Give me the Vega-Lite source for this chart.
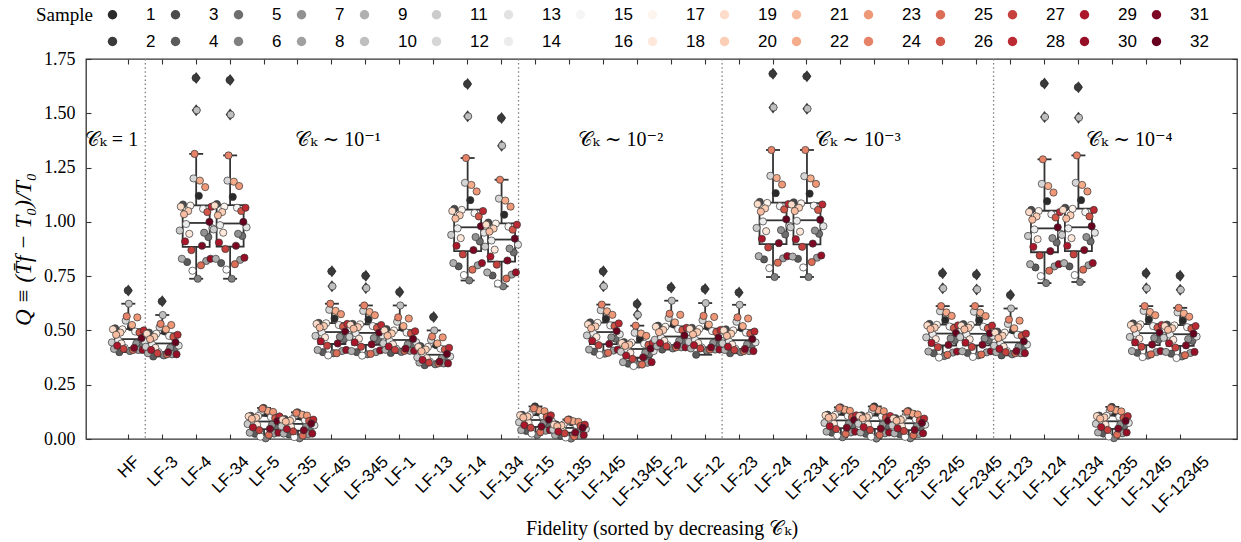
{
"$schema":"https://vega.github.io/schema/vega-lite/v6.json",
"width":1151,"height":380,
"autosize":{"type":"none"},
"padding":{"left":86,"top":59,"right":4,"bottom":103},
"background":"white",
"config":{
 "font":"Liberation Serif, DejaVu Serif, serif",
 "view":{"stroke":"#333333","strokeWidth":1.3},
 "axis":{"grid":false,"domain":false,"tickColor":"#333333","tickWidth":1.1,"labelColor":"#000000","titleColor":"#000000","titleFontWeight":"normal"}
},
"datasets":{"pts":[
{"f":"HF","s":1,"q":0.515},{"f":"HF","s":2,"q":0.684},{"f":"HF","s":3,"q":0.51},{"f":"HF","s":4,"q":0.4},{"f":"HF","s":5,"q":0.43},{"f":"HF","s":6,"q":0.405},{"f":"HF","s":7,"q":0.44},{"f":"HF","s":8,"q":0.41},{"f":"HF","s":9,"q":0.415},{"f":"HF","s":10,"q":0.623},{"f":"HF","s":11,"q":0.445},{"f":"HF","s":12,"q":0.545},{"f":"HF","s":13,"q":0.45},{"f":"HF","s":14,"q":0.455},{"f":"HF","s":15,"q":0.495},{"f":"HF","s":16,"q":0.42},{"f":"HF","s":17,"q":0.505},{"f":"HF","s":18,"q":0.44},{"f":"HF","s":19,"q":0.505},{"f":"HF","s":20,"q":0.49},{"f":"HF","s":21,"q":0.48},{"f":"HF","s":22,"q":0.525},{"f":"HF","s":23,"q":0.56},{"f":"HF","s":24,"q":0.565},{"f":"HF","s":25,"q":0.41},{"f":"HF","s":26,"q":0.49},{"f":"HF","s":27,"q":0.415},{"f":"HF","s":28,"q":0.5},{"f":"HF","s":29,"q":0.43},{"f":"HF","s":30,"q":0.41},{"f":"HF","s":31,"q":0.42},{"f":"HF","s":32,"q":0.465},
{"f":"LF-3","s":1,"q":0.495},{"f":"LF-3","s":2,"q":0.634},{"f":"LF-3","s":3,"q":0.49},{"f":"LF-3","s":4,"q":0.38},{"f":"LF-3","s":5,"q":0.41},{"f":"LF-3","s":6,"q":0.385},{"f":"LF-3","s":7,"q":0.42},{"f":"LF-3","s":8,"q":0.39},{"f":"LF-3","s":9,"q":0.395},{"f":"LF-3","s":10,"q":0.571},{"f":"LF-3","s":11,"q":0.425},{"f":"LF-3","s":12,"q":0.515},{"f":"LF-3","s":13,"q":0.43},{"f":"LF-3","s":14,"q":0.435},{"f":"LF-3","s":15,"q":0.475},{"f":"LF-3","s":16,"q":0.4},{"f":"LF-3","s":17,"q":0.485},{"f":"LF-3","s":18,"q":0.42},{"f":"LF-3","s":19,"q":0.485},{"f":"LF-3","s":20,"q":0.47},{"f":"LF-3","s":21,"q":0.46},{"f":"LF-3","s":22,"q":0.505},{"f":"LF-3","s":23,"q":0.525},{"f":"LF-3","s":24,"q":0.53},{"f":"LF-3","s":25,"q":0.39},{"f":"LF-3","s":26,"q":0.47},{"f":"LF-3","s":27,"q":0.395},{"f":"LF-3","s":28,"q":0.48},{"f":"LF-3","s":29,"q":0.41},{"f":"LF-3","s":30,"q":0.39},{"f":"LF-3","s":31,"q":0.4},{"f":"LF-3","s":32,"q":0.445},
{"f":"LF-4","s":1,"q":1.12},{"f":"LF-4","s":2,"q":1.663},{"f":"LF-4","s":3,"q":1.08},{"f":"LF-4","s":4,"q":0.815},{"f":"LF-4","s":5,"q":0.93},{"f":"LF-4","s":6,"q":0.738},{"f":"LF-4","s":7,"q":0.95},{"f":"LF-4","s":8,"q":0.82},{"f":"LF-4","s":9,"q":0.83},{"f":"LF-4","s":10,"q":1.514},{"f":"LF-4","s":11,"q":0.96},{"f":"LF-4","s":12,"q":1.2},{"f":"LF-4","s":13,"q":0.97},{"f":"LF-4","s":14,"q":0.99},{"f":"LF-4","s":15,"q":1.06},{"f":"LF-4","s":16,"q":0.775},{"f":"LF-4","s":17,"q":1.075},{"f":"LF-4","s":18,"q":0.945},{"f":"LF-4","s":19,"q":1.07},{"f":"LF-4","s":20,"q":1.05},{"f":"LF-4","s":21,"q":1.035},{"f":"LF-4","s":22,"q":1.19},{"f":"LF-4","s":23,"q":1.16},{"f":"LF-4","s":24,"q":1.313},{"f":"LF-4","s":25,"q":0.8},{"f":"LF-4","s":26,"q":1.045},{"f":"LF-4","s":27,"q":0.87},{"f":"LF-4","s":28,"q":1.07},{"f":"LF-4","s":29,"q":0.91},{"f":"LF-4","s":30,"q":0.83},{"f":"LF-4","s":31,"q":0.89},{"f":"LF-4","s":32,"q":1.0},
{"f":"LF-34","s":1,"q":1.115},{"f":"LF-34","s":2,"q":1.653},{"f":"LF-34","s":3,"q":1.082},{"f":"LF-34","s":4,"q":0.81},{"f":"LF-34","s":5,"q":0.935},{"f":"LF-34","s":6,"q":0.738},{"f":"LF-34","s":7,"q":0.945},{"f":"LF-34","s":8,"q":0.825},{"f":"LF-34","s":9,"q":0.83},{"f":"LF-34","s":10,"q":1.494},{"f":"LF-34","s":11,"q":0.965},{"f":"LF-34","s":12,"q":1.19},{"f":"LF-34","s":13,"q":0.975},{"f":"LF-34","s":14,"q":0.985},{"f":"LF-34","s":15,"q":1.065},{"f":"LF-34","s":16,"q":0.78},{"f":"LF-34","s":17,"q":1.07},{"f":"LF-34","s":18,"q":0.95},{"f":"LF-34","s":19,"q":1.075},{"f":"LF-34","s":20,"q":1.045},{"f":"LF-34","s":21,"q":1.03},{"f":"LF-34","s":22,"q":1.185},{"f":"LF-34","s":23,"q":1.165},{"f":"LF-34","s":24,"q":1.306},{"f":"LF-34","s":25,"q":0.805},{"f":"LF-34","s":26,"q":1.05},{"f":"LF-34","s":27,"q":0.875},{"f":"LF-34","s":28,"q":1.065},{"f":"LF-34","s":29,"q":0.905},{"f":"LF-34","s":30,"q":0.835},{"f":"LF-34","s":31,"q":0.89},{"f":"LF-34","s":32,"q":1.0},
{"f":"LF-5","s":1,"q":0.12},{"f":"LF-5","s":2,"q":0.143},{"f":"LF-5","s":3,"q":0.107},{"f":"LF-5","s":4,"q":0.024},{"f":"LF-5","s":5,"q":0.06},{"f":"LF-5","s":6,"q":0.003},{"f":"LF-5","s":7,"q":0.066},{"f":"LF-5","s":8,"q":0.025},{"f":"LF-5","s":9,"q":0.029},{"f":"LF-5","s":10,"q":0.135},{"f":"LF-5","s":11,"q":0.069},{"f":"LF-5","s":12,"q":0.128},{"f":"LF-5","s":13,"q":0.073},{"f":"LF-5","s":14,"q":0.079},{"f":"LF-5","s":15,"q":0.101},{"f":"LF-5","s":16,"q":0.011},{"f":"LF-5","s":17,"q":0.106},{"f":"LF-5","s":18,"q":0.065},{"f":"LF-5","s":19,"q":0.104},{"f":"LF-5","s":20,"q":0.098},{"f":"LF-5","s":21,"q":0.093},{"f":"LF-5","s":22,"q":0.13},{"f":"LF-5","s":23,"q":0.125},{"f":"LF-5","s":24,"q":0.14},{"f":"LF-5","s":25,"q":0.019},{"f":"LF-5","s":26,"q":0.096},{"f":"LF-5","s":27,"q":0.041},{"f":"LF-5","s":28,"q":0.104},{"f":"LF-5","s":29,"q":0.054},{"f":"LF-5","s":30,"q":0.029},{"f":"LF-5","s":31,"q":0.047},{"f":"LF-5","s":32,"q":0.082},
{"f":"LF-35","s":1,"q":0.103},{"f":"LF-35","s":2,"q":0.123},{"f":"LF-35","s":3,"q":0.092},{"f":"LF-35","s":4,"q":0.021},{"f":"LF-35","s":5,"q":0.052},{"f":"LF-35","s":6,"q":0.003},{"f":"LF-35","s":7,"q":0.057},{"f":"LF-35","s":8,"q":0.022},{"f":"LF-35","s":9,"q":0.025},{"f":"LF-35","s":10,"q":0.116},{"f":"LF-35","s":11,"q":0.059},{"f":"LF-35","s":12,"q":0.11},{"f":"LF-35","s":13,"q":0.063},{"f":"LF-35","s":14,"q":0.068},{"f":"LF-35","s":15,"q":0.087},{"f":"LF-35","s":16,"q":0.009},{"f":"LF-35","s":17,"q":0.091},{"f":"LF-35","s":18,"q":0.056},{"f":"LF-35","s":19,"q":0.089},{"f":"LF-35","s":20,"q":0.084},{"f":"LF-35","s":21,"q":0.08},{"f":"LF-35","s":22,"q":0.112},{"f":"LF-35","s":23,"q":0.108},{"f":"LF-35","s":24,"q":0.12},{"f":"LF-35","s":25,"q":0.016},{"f":"LF-35","s":26,"q":0.083},{"f":"LF-35","s":27,"q":0.035},{"f":"LF-35","s":28,"q":0.089},{"f":"LF-35","s":29,"q":0.046},{"f":"LF-35","s":30,"q":0.025},{"f":"LF-35","s":31,"q":0.04},{"f":"LF-35","s":32,"q":0.071},
{"f":"LF-45","s":1,"q":0.555},{"f":"LF-45","s":2,"q":0.772},{"f":"LF-45","s":3,"q":0.535},{"f":"LF-45","s":4,"q":0.4},{"f":"LF-45","s":5,"q":0.46},{"f":"LF-45","s":6,"q":0.395},{"f":"LF-45","s":7,"q":0.47},{"f":"LF-45","s":8,"q":0.405},{"f":"LF-45","s":9,"q":0.41},{"f":"LF-45","s":10,"q":0.703},{"f":"LF-45","s":11,"q":0.475},{"f":"LF-45","s":12,"q":0.595},{"f":"LF-45","s":13,"q":0.48},{"f":"LF-45","s":14,"q":0.49},{"f":"LF-45","s":15,"q":0.525},{"f":"LF-45","s":16,"q":0.385},{"f":"LF-45","s":17,"q":0.533},{"f":"LF-45","s":18,"q":0.468},{"f":"LF-45","s":19,"q":0.53},{"f":"LF-45","s":20,"q":0.52},{"f":"LF-45","s":21,"q":0.513},{"f":"LF-45","s":22,"q":0.59},{"f":"LF-45","s":23,"q":0.575},{"f":"LF-45","s":24,"q":0.623},{"f":"LF-45","s":25,"q":0.395},{"f":"LF-45","s":26,"q":0.518},{"f":"LF-45","s":27,"q":0.43},{"f":"LF-45","s":28,"q":0.53},{"f":"LF-45","s":29,"q":0.45},{"f":"LF-45","s":30,"q":0.41},{"f":"LF-45","s":31,"q":0.44},{"f":"LF-45","s":32,"q":0.495},
{"f":"LF-345","s":1,"q":0.55},{"f":"LF-345","s":2,"q":0.752},{"f":"LF-345","s":3,"q":0.53},{"f":"LF-345","s":4,"q":0.4},{"f":"LF-345","s":5,"q":0.455},{"f":"LF-345","s":6,"q":0.39},{"f":"LF-345","s":7,"q":0.465},{"f":"LF-345","s":8,"q":0.4},{"f":"LF-345","s":9,"q":0.405},{"f":"LF-345","s":10,"q":0.695},{"f":"LF-345","s":11,"q":0.47},{"f":"LF-345","s":12,"q":0.59},{"f":"LF-345","s":13,"q":0.478},{"f":"LF-345","s":14,"q":0.487},{"f":"LF-345","s":15,"q":0.52},{"f":"LF-345","s":16,"q":0.384},{"f":"LF-345","s":17,"q":0.528},{"f":"LF-345","s":18,"q":0.462},{"f":"LF-345","s":19,"q":0.526},{"f":"LF-345","s":20,"q":0.515},{"f":"LF-345","s":21,"q":0.508},{"f":"LF-345","s":22,"q":0.585},{"f":"LF-345","s":23,"q":0.57},{"f":"LF-345","s":24,"q":0.615},{"f":"LF-345","s":25,"q":0.392},{"f":"LF-345","s":26,"q":0.512},{"f":"LF-345","s":27,"q":0.425},{"f":"LF-345","s":28,"q":0.525},{"f":"LF-345","s":29,"q":0.445},{"f":"LF-345","s":30,"q":0.408},{"f":"LF-345","s":31,"q":0.436},{"f":"LF-345","s":32,"q":0.49},
{"f":"LF-1","s":1,"q":0.512},{"f":"LF-1","s":2,"q":0.677},{"f":"LF-1","s":3,"q":0.506},{"f":"LF-1","s":4,"q":0.396},{"f":"LF-1","s":5,"q":0.426},{"f":"LF-1","s":6,"q":0.401},{"f":"LF-1","s":7,"q":0.436},{"f":"LF-1","s":8,"q":0.406},{"f":"LF-1","s":9,"q":0.411},{"f":"LF-1","s":10,"q":0.615},{"f":"LF-1","s":11,"q":0.441},{"f":"LF-1","s":12,"q":0.54},{"f":"LF-1","s":13,"q":0.446},{"f":"LF-1","s":14,"q":0.451},{"f":"LF-1","s":15,"q":0.49},{"f":"LF-1","s":16,"q":0.416},{"f":"LF-1","s":17,"q":0.5},{"f":"LF-1","s":18,"q":0.436},{"f":"LF-1","s":19,"q":0.5},{"f":"LF-1","s":20,"q":0.486},{"f":"LF-1","s":21,"q":0.476},{"f":"LF-1","s":22,"q":0.52},{"f":"LF-1","s":23,"q":0.555},{"f":"LF-1","s":24,"q":0.56},{"f":"LF-1","s":25,"q":0.406},{"f":"LF-1","s":26,"q":0.486},{"f":"LF-1","s":27,"q":0.411},{"f":"LF-1","s":28,"q":0.496},{"f":"LF-1","s":29,"q":0.426},{"f":"LF-1","s":30,"q":0.406},{"f":"LF-1","s":31,"q":0.416},{"f":"LF-1","s":32,"q":0.461},
{"f":"LF-13","s":1,"q":0.432},{"f":"LF-13","s":2,"q":0.562},{"f":"LF-13","s":3,"q":0.428},{"f":"LF-13","s":4,"q":0.34},{"f":"LF-13","s":5,"q":0.364},{"f":"LF-13","s":6,"q":0.344},{"f":"LF-13","s":7,"q":0.372},{"f":"LF-13","s":8,"q":0.348},{"f":"LF-13","s":9,"q":0.352},{"f":"LF-13","s":10,"q":0.5},{"f":"LF-13","s":11,"q":0.376},{"f":"LF-13","s":12,"q":0.456},{"f":"LF-13","s":13,"q":0.38},{"f":"LF-13","s":14,"q":0.384},{"f":"LF-13","s":15,"q":0.416},{"f":"LF-13","s":16,"q":0.356},{"f":"LF-13","s":17,"q":0.424},{"f":"LF-13","s":18,"q":0.372},{"f":"LF-13","s":19,"q":0.424},{"f":"LF-13","s":20,"q":0.412},{"f":"LF-13","s":21,"q":0.404},{"f":"LF-13","s":22,"q":0.44},{"f":"LF-13","s":23,"q":0.468},{"f":"LF-13","s":24,"q":0.472},{"f":"LF-13","s":25,"q":0.348},{"f":"LF-13","s":26,"q":0.412},{"f":"LF-13","s":27,"q":0.352},{"f":"LF-13","s":28,"q":0.42},{"f":"LF-13","s":29,"q":0.364},{"f":"LF-13","s":30,"q":0.348},{"f":"LF-13","s":31,"q":0.356},{"f":"LF-13","s":32,"q":0.392},
{"f":"LF-14","s":1,"q":1.1},{"f":"LF-14","s":2,"q":1.635},{"f":"LF-14","s":3,"q":1.06},{"f":"LF-14","s":4,"q":0.795},{"f":"LF-14","s":5,"q":0.91},{"f":"LF-14","s":6,"q":0.73},{"f":"LF-14","s":7,"q":0.93},{"f":"LF-14","s":8,"q":0.8},{"f":"LF-14","s":9,"q":0.81},{"f":"LF-14","s":10,"q":1.486},{"f":"LF-14","s":11,"q":0.94},{"f":"LF-14","s":12,"q":1.18},{"f":"LF-14","s":13,"q":0.95},{"f":"LF-14","s":14,"q":0.97},{"f":"LF-14","s":15,"q":1.04},{"f":"LF-14","s":16,"q":0.755},{"f":"LF-14","s":17,"q":1.055},{"f":"LF-14","s":18,"q":0.925},{"f":"LF-14","s":19,"q":1.05},{"f":"LF-14","s":20,"q":1.03},{"f":"LF-14","s":21,"q":1.015},{"f":"LF-14","s":22,"q":1.17},{"f":"LF-14","s":23,"q":1.14},{"f":"LF-14","s":24,"q":1.294},{"f":"LF-14","s":25,"q":0.78},{"f":"LF-14","s":26,"q":1.025},{"f":"LF-14","s":27,"q":0.85},{"f":"LF-14","s":28,"q":1.05},{"f":"LF-14","s":29,"q":0.89},{"f":"LF-14","s":30,"q":0.81},{"f":"LF-14","s":31,"q":0.87},{"f":"LF-14","s":32,"q":0.98},
{"f":"LF-134","s":1,"q":1.033},{"f":"LF-134","s":2,"q":1.478},{"f":"LF-134","s":3,"q":0.997},{"f":"LF-134","s":4,"q":0.753},{"f":"LF-134","s":5,"q":0.859},{"f":"LF-134","s":6,"q":0.703},{"f":"LF-134","s":7,"q":0.877},{"f":"LF-134","s":8,"q":0.757},{"f":"LF-134","s":9,"q":0.767},{"f":"LF-134","s":10,"q":1.351},{"f":"LF-134","s":11,"q":0.886},{"f":"LF-134","s":12,"q":1.107},{"f":"LF-134","s":13,"q":0.895},{"f":"LF-134","s":14,"q":0.914},{"f":"LF-134","s":15,"q":0.978},{"f":"LF-134","s":16,"q":0.716},{"f":"LF-134","s":17,"q":0.992},{"f":"LF-134","s":18,"q":0.872},{"f":"LF-134","s":19,"q":0.987},{"f":"LF-134","s":20,"q":0.969},{"f":"LF-134","s":21,"q":0.955},{"f":"LF-134","s":22,"q":1.098},{"f":"LF-134","s":23,"q":1.07},{"f":"LF-134","s":24,"q":1.194},{"f":"LF-134","s":25,"q":0.739},{"f":"LF-134","s":26,"q":0.964},{"f":"LF-134","s":27,"q":0.803},{"f":"LF-134","s":28,"q":0.987},{"f":"LF-134","s":29,"q":0.84},{"f":"LF-134","s":30,"q":0.767},{"f":"LF-134","s":31,"q":0.822},{"f":"LF-134","s":32,"q":0.923},
{"f":"LF-15","s":1,"q":0.123},{"f":"LF-15","s":2,"q":0.15},{"f":"LF-15","s":3,"q":0.111},{"f":"LF-15","s":4,"q":0.037},{"f":"LF-15","s":5,"q":0.069},{"f":"LF-15","s":6,"q":0.018},{"f":"LF-15","s":7,"q":0.074},{"f":"LF-15","s":8,"q":0.038},{"f":"LF-15","s":9,"q":0.041},{"f":"LF-15","s":10,"q":0.137},{"f":"LF-15","s":11,"q":0.077},{"f":"LF-15","s":12,"q":0.13},{"f":"LF-15","s":13,"q":0.081},{"f":"LF-15","s":14,"q":0.086},{"f":"LF-15","s":15,"q":0.106},{"f":"LF-15","s":16,"q":0.025},{"f":"LF-15","s":17,"q":0.11},{"f":"LF-15","s":18,"q":0.074},{"f":"LF-15","s":19,"q":0.109},{"f":"LF-15","s":20,"q":0.103},{"f":"LF-15","s":21,"q":0.099},{"f":"LF-15","s":22,"q":0.132},{"f":"LF-15","s":23,"q":0.128},{"f":"LF-15","s":24,"q":0.141},{"f":"LF-15","s":25,"q":0.032},{"f":"LF-15","s":26,"q":0.101},{"f":"LF-15","s":27,"q":0.052},{"f":"LF-15","s":28,"q":0.109},{"f":"LF-15","s":29,"q":0.064},{"f":"LF-15","s":30,"q":0.041},{"f":"LF-15","s":31,"q":0.057},{"f":"LF-15","s":32,"q":0.089},
{"f":"LF-135","s":1,"q":0.076},{"f":"LF-135","s":2,"q":0.09},{"f":"LF-135","s":3,"q":0.067},{"f":"LF-135","s":4,"q":0.015},{"f":"LF-135","s":5,"q":0.038},{"f":"LF-135","s":6,"q":0.002},{"f":"LF-135","s":7,"q":0.042},{"f":"LF-135","s":8,"q":0.016},{"f":"LF-135","s":9,"q":0.018},{"f":"LF-135","s":10,"q":0.085},{"f":"LF-135","s":11,"q":0.043},{"f":"LF-135","s":12,"q":0.081},{"f":"LF-135","s":13,"q":0.046},{"f":"LF-135","s":14,"q":0.05},{"f":"LF-135","s":15,"q":0.064},{"f":"LF-135","s":16,"q":0.007},{"f":"LF-135","s":17,"q":0.067},{"f":"LF-135","s":18,"q":0.041},{"f":"LF-135","s":19,"q":0.066},{"f":"LF-135","s":20,"q":0.062},{"f":"LF-135","s":21,"q":0.059},{"f":"LF-135","s":22,"q":0.082},{"f":"LF-135","s":23,"q":0.079},{"f":"LF-135","s":24,"q":0.088},{"f":"LF-135","s":25,"q":0.012},{"f":"LF-135","s":26,"q":0.06},{"f":"LF-135","s":27,"q":0.026},{"f":"LF-135","s":28,"q":0.066},{"f":"LF-135","s":29,"q":0.034},{"f":"LF-135","s":30,"q":0.018},{"f":"LF-135","s":31,"q":0.03},{"f":"LF-135","s":32,"q":0.052},
{"f":"LF-145","s":1,"q":0.553},{"f":"LF-145","s":2,"q":0.772},{"f":"LF-145","s":3,"q":0.537},{"f":"LF-145","s":4,"q":0.402},{"f":"LF-145","s":5,"q":0.462},{"f":"LF-145","s":6,"q":0.393},{"f":"LF-145","s":7,"q":0.468},{"f":"LF-145","s":8,"q":0.407},{"f":"LF-145","s":9,"q":0.412},{"f":"LF-145","s":10,"q":0.703},{"f":"LF-145","s":11,"q":0.477},{"f":"LF-145","s":12,"q":0.593},{"f":"LF-145","s":13,"q":0.482},{"f":"LF-145","s":14,"q":0.488},{"f":"LF-145","s":15,"q":0.523},{"f":"LF-145","s":16,"q":0.387},{"f":"LF-145","s":17,"q":0.535},{"f":"LF-145","s":18,"q":0.47},{"f":"LF-145","s":19,"q":0.528},{"f":"LF-145","s":20,"q":0.518},{"f":"LF-145","s":21,"q":0.51},{"f":"LF-145","s":22,"q":0.588},{"f":"LF-145","s":23,"q":0.572},{"f":"LF-145","s":24,"q":0.619},{"f":"LF-145","s":25,"q":0.397},{"f":"LF-145","s":26,"q":0.52},{"f":"LF-145","s":27,"q":0.432},{"f":"LF-145","s":28,"q":0.532},{"f":"LF-145","s":29,"q":0.452},{"f":"LF-145","s":30,"q":0.412},{"f":"LF-145","s":31,"q":0.438},{"f":"LF-145","s":32,"q":0.497},
{"f":"LF-1345","s":1,"q":0.46},{"f":"LF-1345","s":2,"q":0.622},{"f":"LF-1345","s":3,"q":0.446},{"f":"LF-1345","s":4,"q":0.347},{"f":"LF-1345","s":5,"q":0.391},{"f":"LF-1345","s":6,"q":0.343},{"f":"LF-1345","s":7,"q":0.398},{"f":"LF-1345","s":8,"q":0.351},{"f":"LF-1345","s":9,"q":0.354},{"f":"LF-1345","s":10,"q":0.572},{"f":"LF-1345","s":11,"q":0.402},{"f":"LF-1345","s":12,"q":0.489},{"f":"LF-1345","s":13,"q":0.405},{"f":"LF-1345","s":14,"q":0.413},{"f":"LF-1345","s":15,"q":0.438},{"f":"LF-1345","s":16,"q":0.336},{"f":"LF-1345","s":17,"q":0.444},{"f":"LF-1345","s":18,"q":0.397},{"f":"LF-1345","s":19,"q":0.442},{"f":"LF-1345","s":20,"q":0.435},{"f":"LF-1345","s":21,"q":0.429},{"f":"LF-1345","s":22,"q":0.486},{"f":"LF-1345","s":23,"q":0.475},{"f":"LF-1345","s":24,"q":0.522},{"f":"LF-1345","s":25,"q":0.343},{"f":"LF-1345","s":26,"q":0.433},{"f":"LF-1345","s":27,"q":0.369},{"f":"LF-1345","s":28,"q":0.442},{"f":"LF-1345","s":29,"q":0.384},{"f":"LF-1345","s":30,"q":0.354},{"f":"LF-1345","s":31,"q":0.376},{"f":"LF-1345","s":32,"q":0.416},
{"f":"LF-2","s":1,"q":0.527},{"f":"LF-2","s":2,"q":0.698},{"f":"LF-2","s":3,"q":0.522},{"f":"LF-2","s":4,"q":0.412},{"f":"LF-2","s":5,"q":0.442},{"f":"LF-2","s":6,"q":0.417},{"f":"LF-2","s":7,"q":0.452},{"f":"LF-2","s":8,"q":0.422},{"f":"LF-2","s":9,"q":0.427},{"f":"LF-2","s":10,"q":0.637},{"f":"LF-2","s":11,"q":0.457},{"f":"LF-2","s":12,"q":0.557},{"f":"LF-2","s":13,"q":0.462},{"f":"LF-2","s":14,"q":0.467},{"f":"LF-2","s":15,"q":0.507},{"f":"LF-2","s":16,"q":0.432},{"f":"LF-2","s":17,"q":0.517},{"f":"LF-2","s":18,"q":0.452},{"f":"LF-2","s":19,"q":0.517},{"f":"LF-2","s":20,"q":0.502},{"f":"LF-2","s":21,"q":0.492},{"f":"LF-2","s":22,"q":0.537},{"f":"LF-2","s":23,"q":0.572},{"f":"LF-2","s":24,"q":0.577},{"f":"LF-2","s":25,"q":0.422},{"f":"LF-2","s":26,"q":0.502},{"f":"LF-2","s":27,"q":0.427},{"f":"LF-2","s":28,"q":0.512},{"f":"LF-2","s":29,"q":0.442},{"f":"LF-2","s":30,"q":0.422},{"f":"LF-2","s":31,"q":0.432},{"f":"LF-2","s":32,"q":0.477},
{"f":"LF-12","s":1,"q":0.517},{"f":"LF-12","s":2,"q":0.691},{"f":"LF-12","s":3,"q":0.512},{"f":"LF-12","s":4,"q":0.388},{"f":"LF-12","s":5,"q":0.432},{"f":"LF-12","s":6,"q":0.407},{"f":"LF-12","s":7,"q":0.442},{"f":"LF-12","s":8,"q":0.412},{"f":"LF-12","s":9,"q":0.417},{"f":"LF-12","s":10,"q":0.626},{"f":"LF-12","s":11,"q":0.447},{"f":"LF-12","s":12,"q":0.547},{"f":"LF-12","s":13,"q":0.452},{"f":"LF-12","s":14,"q":0.457},{"f":"LF-12","s":15,"q":0.497},{"f":"LF-12","s":16,"q":0.422},{"f":"LF-12","s":17,"q":0.507},{"f":"LF-12","s":18,"q":0.442},{"f":"LF-12","s":19,"q":0.507},{"f":"LF-12","s":20,"q":0.492},{"f":"LF-12","s":21,"q":0.482},{"f":"LF-12","s":22,"q":0.527},{"f":"LF-12","s":23,"q":0.562},{"f":"LF-12","s":24,"q":0.567},{"f":"LF-12","s":25,"q":0.412},{"f":"LF-12","s":26,"q":0.492},{"f":"LF-12","s":27,"q":0.417},{"f":"LF-12","s":28,"q":0.502},{"f":"LF-12","s":29,"q":0.432},{"f":"LF-12","s":30,"q":0.412},{"f":"LF-12","s":31,"q":0.422},{"f":"LF-12","s":32,"q":0.467},
{"f":"LF-23","s":1,"q":0.51},{"f":"LF-23","s":2,"q":0.675},{"f":"LF-23","s":3,"q":0.505},{"f":"LF-23","s":4,"q":0.395},{"f":"LF-23","s":5,"q":0.425},{"f":"LF-23","s":6,"q":0.4},{"f":"LF-23","s":7,"q":0.435},{"f":"LF-23","s":8,"q":0.405},{"f":"LF-23","s":9,"q":0.41},{"f":"LF-23","s":10,"q":0.618},{"f":"LF-23","s":11,"q":0.44},{"f":"LF-23","s":12,"q":0.54},{"f":"LF-23","s":13,"q":0.445},{"f":"LF-23","s":14,"q":0.45},{"f":"LF-23","s":15,"q":0.49},{"f":"LF-23","s":16,"q":0.415},{"f":"LF-23","s":17,"q":0.5},{"f":"LF-23","s":18,"q":0.435},{"f":"LF-23","s":19,"q":0.5},{"f":"LF-23","s":20,"q":0.485},{"f":"LF-23","s":21,"q":0.475},{"f":"LF-23","s":22,"q":0.52},{"f":"LF-23","s":23,"q":0.555},{"f":"LF-23","s":24,"q":0.56},{"f":"LF-23","s":25,"q":0.405},{"f":"LF-23","s":26,"q":0.485},{"f":"LF-23","s":27,"q":0.41},{"f":"LF-23","s":28,"q":0.495},{"f":"LF-23","s":29,"q":0.425},{"f":"LF-23","s":30,"q":0.405},{"f":"LF-23","s":31,"q":0.415},{"f":"LF-23","s":32,"q":0.46},
{"f":"LF-24","s":1,"q":1.132},{"f":"LF-24","s":2,"q":1.682},{"f":"LF-24","s":3,"q":1.092},{"f":"LF-24","s":4,"q":0.827},{"f":"LF-24","s":5,"q":0.942},{"f":"LF-24","s":6,"q":0.746},{"f":"LF-24","s":7,"q":0.962},{"f":"LF-24","s":8,"q":0.832},{"f":"LF-24","s":9,"q":0.842},{"f":"LF-24","s":10,"q":1.527},{"f":"LF-24","s":11,"q":0.972},{"f":"LF-24","s":12,"q":1.212},{"f":"LF-24","s":13,"q":0.982},{"f":"LF-24","s":14,"q":1.002},{"f":"LF-24","s":15,"q":1.072},{"f":"LF-24","s":16,"q":0.787},{"f":"LF-24","s":17,"q":1.087},{"f":"LF-24","s":18,"q":0.957},{"f":"LF-24","s":19,"q":1.082},{"f":"LF-24","s":20,"q":1.062},{"f":"LF-24","s":21,"q":1.047},{"f":"LF-24","s":22,"q":1.202},{"f":"LF-24","s":23,"q":1.172},{"f":"LF-24","s":24,"q":1.331},{"f":"LF-24","s":25,"q":0.812},{"f":"LF-24","s":26,"q":1.057},{"f":"LF-24","s":27,"q":0.882},{"f":"LF-24","s":28,"q":1.082},{"f":"LF-24","s":29,"q":0.922},{"f":"LF-24","s":30,"q":0.842},{"f":"LF-24","s":31,"q":0.902},{"f":"LF-24","s":32,"q":1.012},
{"f":"LF-234","s":1,"q":1.13},{"f":"LF-234","s":2,"q":1.67},{"f":"LF-234","s":3,"q":1.09},{"f":"LF-234","s":4,"q":0.83},{"f":"LF-234","s":5,"q":0.945},{"f":"LF-234","s":6,"q":0.746},{"f":"LF-234","s":7,"q":0.96},{"f":"LF-234","s":8,"q":0.835},{"f":"LF-234","s":9,"q":0.84},{"f":"LF-234","s":10,"q":1.521},{"f":"LF-234","s":11,"q":0.975},{"f":"LF-234","s":12,"q":1.21},{"f":"LF-234","s":13,"q":0.98},{"f":"LF-234","s":14,"q":1.005},{"f":"LF-234","s":15,"q":1.075},{"f":"LF-234","s":16,"q":0.79},{"f":"LF-234","s":17,"q":1.085},{"f":"LF-234","s":18,"q":0.955},{"f":"LF-234","s":19,"q":1.08},{"f":"LF-234","s":20,"q":1.065},{"f":"LF-234","s":21,"q":1.05},{"f":"LF-234","s":22,"q":1.2},{"f":"LF-234","s":23,"q":1.175},{"f":"LF-234","s":24,"q":1.331},{"f":"LF-234","s":25,"q":0.815},{"f":"LF-234","s":26,"q":1.055},{"f":"LF-234","s":27,"q":0.885},{"f":"LF-234","s":28,"q":1.08},{"f":"LF-234","s":29,"q":0.92},{"f":"LF-234","s":30,"q":0.845},{"f":"LF-234","s":31,"q":0.9},{"f":"LF-234","s":32,"q":1.01},
{"f":"LF-25","s":1,"q":0.125},{"f":"LF-25","s":2,"q":0.146},{"f":"LF-25","s":3,"q":0.112},{"f":"LF-25","s":4,"q":0.029},{"f":"LF-25","s":5,"q":0.065},{"f":"LF-25","s":6,"q":0.008},{"f":"LF-25","s":7,"q":0.071},{"f":"LF-25","s":8,"q":0.03},{"f":"LF-25","s":9,"q":0.034},{"f":"LF-25","s":10,"q":0.14},{"f":"LF-25","s":11,"q":0.074},{"f":"LF-25","s":12,"q":0.133},{"f":"LF-25","s":13,"q":0.078},{"f":"LF-25","s":14,"q":0.084},{"f":"LF-25","s":15,"q":0.106},{"f":"LF-25","s":16,"q":0.016},{"f":"LF-25","s":17,"q":0.111},{"f":"LF-25","s":18,"q":0.07},{"f":"LF-25","s":19,"q":0.109},{"f":"LF-25","s":20,"q":0.103},{"f":"LF-25","s":21,"q":0.098},{"f":"LF-25","s":22,"q":0.135},{"f":"LF-25","s":23,"q":0.13},{"f":"LF-25","s":24,"q":0.143},{"f":"LF-25","s":25,"q":0.024},{"f":"LF-25","s":26,"q":0.101},{"f":"LF-25","s":27,"q":0.046},{"f":"LF-25","s":28,"q":0.109},{"f":"LF-25","s":29,"q":0.059},{"f":"LF-25","s":30,"q":0.034},{"f":"LF-25","s":31,"q":0.052},{"f":"LF-25","s":32,"q":0.087},
{"f":"LF-125","s":1,"q":0.122},{"f":"LF-125","s":2,"q":0.15},{"f":"LF-125","s":3,"q":0.109},{"f":"LF-125","s":4,"q":0.024},{"f":"LF-125","s":5,"q":0.061},{"f":"LF-125","s":6,"q":0.002},{"f":"LF-125","s":7,"q":0.067},{"f":"LF-125","s":8,"q":0.026},{"f":"LF-125","s":9,"q":0.03},{"f":"LF-125","s":10,"q":0.138},{"f":"LF-125","s":11,"q":0.07},{"f":"LF-125","s":12,"q":0.131},{"f":"LF-125","s":13,"q":0.074},{"f":"LF-125","s":14,"q":0.081},{"f":"LF-125","s":15,"q":0.103},{"f":"LF-125","s":16,"q":0.011},{"f":"LF-125","s":17,"q":0.108},{"f":"LF-125","s":18,"q":0.066},{"f":"LF-125","s":19,"q":0.106},{"f":"LF-125","s":20,"q":0.1},{"f":"LF-125","s":21,"q":0.095},{"f":"LF-125","s":22,"q":0.133},{"f":"LF-125","s":23,"q":0.128},{"f":"LF-125","s":24,"q":0.144},{"f":"LF-125","s":25,"q":0.019},{"f":"LF-125","s":26,"q":0.098},{"f":"LF-125","s":27,"q":0.042},{"f":"LF-125","s":28,"q":0.106},{"f":"LF-125","s":29,"q":0.055},{"f":"LF-125","s":30,"q":0.03},{"f":"LF-125","s":31,"q":0.048},{"f":"LF-125","s":32,"q":0.084},
{"f":"LF-235","s":1,"q":0.108},{"f":"LF-235","s":2,"q":0.129},{"f":"LF-235","s":3,"q":0.096},{"f":"LF-235","s":4,"q":0.022},{"f":"LF-235","s":5,"q":0.054},{"f":"LF-235","s":6,"q":0.003},{"f":"LF-235","s":7,"q":0.059},{"f":"LF-235","s":8,"q":0.023},{"f":"LF-235","s":9,"q":0.026},{"f":"LF-235","s":10,"q":0.122},{"f":"LF-235","s":11,"q":0.062},{"f":"LF-235","s":12,"q":0.115},{"f":"LF-235","s":13,"q":0.066},{"f":"LF-235","s":14,"q":0.071},{"f":"LF-235","s":15,"q":0.091},{"f":"LF-235","s":16,"q":0.01},{"f":"LF-235","s":17,"q":0.095},{"f":"LF-235","s":18,"q":0.059},{"f":"LF-235","s":19,"q":0.094},{"f":"LF-235","s":20,"q":0.088},{"f":"LF-235","s":21,"q":0.084},{"f":"LF-235","s":22,"q":0.117},{"f":"LF-235","s":23,"q":0.113},{"f":"LF-235","s":24,"q":0.126},{"f":"LF-235","s":25,"q":0.017},{"f":"LF-235","s":26,"q":0.086},{"f":"LF-235","s":27,"q":0.037},{"f":"LF-235","s":28,"q":0.094},{"f":"LF-235","s":29,"q":0.049},{"f":"LF-235","s":30,"q":0.026},{"f":"LF-235","s":31,"q":0.042},{"f":"LF-235","s":32,"q":0.074},
{"f":"LF-245","s":1,"q":0.548},{"f":"LF-245","s":2,"q":0.763},{"f":"LF-245","s":3,"q":0.53},{"f":"LF-245","s":4,"q":0.395},{"f":"LF-245","s":5,"q":0.455},{"f":"LF-245","s":6,"q":0.382},{"f":"LF-245","s":7,"q":0.463},{"f":"LF-245","s":8,"q":0.398},{"f":"LF-245","s":9,"q":0.403},{"f":"LF-245","s":10,"q":0.694},{"f":"LF-245","s":11,"q":0.468},{"f":"LF-245","s":12,"q":0.588},{"f":"LF-245","s":13,"q":0.474},{"f":"LF-245","s":14,"q":0.483},{"f":"LF-245","s":15,"q":0.518},{"f":"LF-245","s":16,"q":0.375},{"f":"LF-245","s":17,"q":0.526},{"f":"LF-245","s":18,"q":0.46},{"f":"LF-245","s":19,"q":0.523},{"f":"LF-245","s":20,"q":0.513},{"f":"LF-245","s":21,"q":0.506},{"f":"LF-245","s":22,"q":0.583},{"f":"LF-245","s":23,"q":0.567},{"f":"LF-245","s":24,"q":0.612},{"f":"LF-245","s":25,"q":0.388},{"f":"LF-245","s":26,"q":0.511},{"f":"LF-245","s":27,"q":0.423},{"f":"LF-245","s":28,"q":0.523},{"f":"LF-245","s":29,"q":0.443},{"f":"LF-245","s":30,"q":0.403},{"f":"LF-245","s":31,"q":0.433},{"f":"LF-245","s":32,"q":0.488},
{"f":"LF-2345","s":1,"q":0.547},{"f":"LF-2345","s":2,"q":0.757},{"f":"LF-2345","s":3,"q":0.529},{"f":"LF-2345","s":4,"q":0.396},{"f":"LF-2345","s":5,"q":0.454},{"f":"LF-2345","s":6,"q":0.385},{"f":"LF-2345","s":7,"q":0.462},{"f":"LF-2345","s":8,"q":0.399},{"f":"LF-2345","s":9,"q":0.404},{"f":"LF-2345","s":10,"q":0.689},{"f":"LF-2345","s":11,"q":0.469},{"f":"LF-2345","s":12,"q":0.586},{"f":"LF-2345","s":13,"q":0.475},{"f":"LF-2345","s":14,"q":0.482},{"f":"LF-2345","s":15,"q":0.517},{"f":"LF-2345","s":16,"q":0.378},{"f":"LF-2345","s":17,"q":0.525},{"f":"LF-2345","s":18,"q":0.459},{"f":"LF-2345","s":19,"q":0.522},{"f":"LF-2345","s":20,"q":0.512},{"f":"LF-2345","s":21,"q":0.505},{"f":"LF-2345","s":22,"q":0.582},{"f":"LF-2345","s":23,"q":0.566},{"f":"LF-2345","s":24,"q":0.612},{"f":"LF-2345","s":25,"q":0.389},{"f":"LF-2345","s":26,"q":0.51},{"f":"LF-2345","s":27,"q":0.424},{"f":"LF-2345","s":28,"q":0.522},{"f":"LF-2345","s":29,"q":0.444},{"f":"LF-2345","s":30,"q":0.404},{"f":"LF-2345","s":31,"q":0.434},{"f":"LF-2345","s":32,"q":0.487},
{"f":"LF-123","s":1,"q":0.5},{"f":"LF-123","s":2,"q":0.663},{"f":"LF-123","s":3,"q":0.495},{"f":"LF-123","s":4,"q":0.385},{"f":"LF-123","s":5,"q":0.415},{"f":"LF-123","s":6,"q":0.39},{"f":"LF-123","s":7,"q":0.425},{"f":"LF-123","s":8,"q":0.395},{"f":"LF-123","s":9,"q":0.4},{"f":"LF-123","s":10,"q":0.601},{"f":"LF-123","s":11,"q":0.43},{"f":"LF-123","s":12,"q":0.53},{"f":"LF-123","s":13,"q":0.435},{"f":"LF-123","s":14,"q":0.44},{"f":"LF-123","s":15,"q":0.48},{"f":"LF-123","s":16,"q":0.405},{"f":"LF-123","s":17,"q":0.49},{"f":"LF-123","s":18,"q":0.425},{"f":"LF-123","s":19,"q":0.49},{"f":"LF-123","s":20,"q":0.475},{"f":"LF-123","s":21,"q":0.465},{"f":"LF-123","s":22,"q":0.51},{"f":"LF-123","s":23,"q":0.545},{"f":"LF-123","s":24,"q":0.55},{"f":"LF-123","s":25,"q":0.395},{"f":"LF-123","s":26,"q":0.475},{"f":"LF-123","s":27,"q":0.4},{"f":"LF-123","s":28,"q":0.485},{"f":"LF-123","s":29,"q":0.415},{"f":"LF-123","s":30,"q":0.395},{"f":"LF-123","s":31,"q":0.405},{"f":"LF-123","s":32,"q":0.45},
{"f":"LF-124","s":1,"q":1.095},{"f":"LF-124","s":2,"q":1.637},{"f":"LF-124","s":3,"q":1.055},{"f":"LF-124","s":4,"q":0.79},{"f":"LF-124","s":5,"q":0.905},{"f":"LF-124","s":6,"q":0.718},{"f":"LF-124","s":7,"q":0.925},{"f":"LF-124","s":8,"q":0.795},{"f":"LF-124","s":9,"q":0.805},{"f":"LF-124","s":10,"q":1.483},{"f":"LF-124","s":11,"q":0.935},{"f":"LF-124","s":12,"q":1.175},{"f":"LF-124","s":13,"q":0.945},{"f":"LF-124","s":14,"q":0.965},{"f":"LF-124","s":15,"q":1.035},{"f":"LF-124","s":16,"q":0.75},{"f":"LF-124","s":17,"q":1.05},{"f":"LF-124","s":18,"q":0.92},{"f":"LF-124","s":19,"q":1.045},{"f":"LF-124","s":20,"q":1.025},{"f":"LF-124","s":21,"q":1.01},{"f":"LF-124","s":22,"q":1.165},{"f":"LF-124","s":23,"q":1.135},{"f":"LF-124","s":24,"q":1.288},{"f":"LF-124","s":25,"q":0.775},{"f":"LF-124","s":26,"q":1.02},{"f":"LF-124","s":27,"q":0.845},{"f":"LF-124","s":28,"q":1.045},{"f":"LF-124","s":29,"q":0.885},{"f":"LF-124","s":30,"q":0.805},{"f":"LF-124","s":31,"q":0.865},{"f":"LF-124","s":32,"q":0.975},
{"f":"LF-1234","s":1,"q":1.1},{"f":"LF-1234","s":2,"q":1.62},{"f":"LF-1234","s":3,"q":1.065},{"f":"LF-1234","s":4,"q":0.795},{"f":"LF-1234","s":5,"q":0.91},{"f":"LF-1234","s":6,"q":0.723},{"f":"LF-1234","s":7,"q":0.93},{"f":"LF-1234","s":8,"q":0.8},{"f":"LF-1234","s":9,"q":0.81},{"f":"LF-1234","s":10,"q":1.48},{"f":"LF-1234","s":11,"q":0.94},{"f":"LF-1234","s":12,"q":1.18},{"f":"LF-1234","s":13,"q":0.95},{"f":"LF-1234","s":14,"q":0.97},{"f":"LF-1234","s":15,"q":1.045},{"f":"LF-1234","s":16,"q":0.755},{"f":"LF-1234","s":17,"q":1.06},{"f":"LF-1234","s":18,"q":0.925},{"f":"LF-1234","s":19,"q":1.055},{"f":"LF-1234","s":20,"q":1.03},{"f":"LF-1234","s":21,"q":1.015},{"f":"LF-1234","s":22,"q":1.17},{"f":"LF-1234","s":23,"q":1.14},{"f":"LF-1234","s":24,"q":1.306},{"f":"LF-1234","s":25,"q":0.78},{"f":"LF-1234","s":26,"q":1.025},{"f":"LF-1234","s":27,"q":0.85},{"f":"LF-1234","s":28,"q":1.055},{"f":"LF-1234","s":29,"q":0.89},{"f":"LF-1234","s":30,"q":0.81},{"f":"LF-1234","s":31,"q":0.87},{"f":"LF-1234","s":32,"q":0.98},
{"f":"LF-1235","s":1,"q":0.121},{"f":"LF-1235","s":2,"q":0.148},{"f":"LF-1235","s":3,"q":0.108},{"f":"LF-1235","s":4,"q":0.025},{"f":"LF-1235","s":5,"q":0.061},{"f":"LF-1235","s":6,"q":0.004},{"f":"LF-1235","s":7,"q":0.067},{"f":"LF-1235","s":8,"q":0.026},{"f":"LF-1235","s":9,"q":0.03},{"f":"LF-1235","s":10,"q":0.138},{"f":"LF-1235","s":11,"q":0.07},{"f":"LF-1235","s":12,"q":0.13},{"f":"LF-1235","s":13,"q":0.074},{"f":"LF-1235","s":14,"q":0.08},{"f":"LF-1235","s":15,"q":0.102},{"f":"LF-1235","s":16,"q":0.012},{"f":"LF-1235","s":17,"q":0.107},{"f":"LF-1235","s":18,"q":0.066},{"f":"LF-1235","s":19,"q":0.105},{"f":"LF-1235","s":20,"q":0.099},{"f":"LF-1235","s":21,"q":0.094},{"f":"LF-1235","s":22,"q":0.132},{"f":"LF-1235","s":23,"q":0.127},{"f":"LF-1235","s":24,"q":0.142},{"f":"LF-1235","s":25,"q":0.02},{"f":"LF-1235","s":26,"q":0.097},{"f":"LF-1235","s":27,"q":0.042},{"f":"LF-1235","s":28,"q":0.105},{"f":"LF-1235","s":29,"q":0.055},{"f":"LF-1235","s":30,"q":0.03},{"f":"LF-1235","s":31,"q":0.048},{"f":"LF-1235","s":32,"q":0.083},
{"f":"LF-1245","s":1,"q":0.55},{"f":"LF-1245","s":2,"q":0.763},{"f":"LF-1245","s":3,"q":0.532},{"f":"LF-1245","s":4,"q":0.397},{"f":"LF-1245","s":5,"q":0.457},{"f":"LF-1245","s":6,"q":0.384},{"f":"LF-1245","s":7,"q":0.465},{"f":"LF-1245","s":8,"q":0.4},{"f":"LF-1245","s":9,"q":0.405},{"f":"LF-1245","s":10,"q":0.694},{"f":"LF-1245","s":11,"q":0.47},{"f":"LF-1245","s":12,"q":0.59},{"f":"LF-1245","s":13,"q":0.476},{"f":"LF-1245","s":14,"q":0.485},{"f":"LF-1245","s":15,"q":0.52},{"f":"LF-1245","s":16,"q":0.377},{"f":"LF-1245","s":17,"q":0.528},{"f":"LF-1245","s":18,"q":0.462},{"f":"LF-1245","s":19,"q":0.525},{"f":"LF-1245","s":20,"q":0.515},{"f":"LF-1245","s":21,"q":0.508},{"f":"LF-1245","s":22,"q":0.585},{"f":"LF-1245","s":23,"q":0.57},{"f":"LF-1245","s":24,"q":0.612},{"f":"LF-1245","s":25,"q":0.39},{"f":"LF-1245","s":26,"q":0.513},{"f":"LF-1245","s":27,"q":0.425},{"f":"LF-1245","s":28,"q":0.525},{"f":"LF-1245","s":29,"q":0.445},{"f":"LF-1245","s":30,"q":0.405},{"f":"LF-1245","s":31,"q":0.435},{"f":"LF-1245","s":32,"q":0.49},
{"f":"LF-12345","s":1,"q":0.545},{"f":"LF-12345","s":2,"q":0.752},{"f":"LF-12345","s":3,"q":0.527},{"f":"LF-12345","s":4,"q":0.393},{"f":"LF-12345","s":5,"q":0.452},{"f":"LF-12345","s":6,"q":0.38},{"f":"LF-12345","s":7,"q":0.46},{"f":"LF-12345","s":8,"q":0.396},{"f":"LF-12345","s":9,"q":0.401},{"f":"LF-12345","s":10,"q":0.687},{"f":"LF-12345","s":11,"q":0.466},{"f":"LF-12345","s":12,"q":0.583},{"f":"LF-12345","s":13,"q":0.472},{"f":"LF-12345","s":14,"q":0.48},{"f":"LF-12345","s":15,"q":0.515},{"f":"LF-12345","s":16,"q":0.373},{"f":"LF-12345","s":17,"q":0.523},{"f":"LF-12345","s":18,"q":0.457},{"f":"LF-12345","s":19,"q":0.52},{"f":"LF-12345","s":20,"q":0.51},{"f":"LF-12345","s":21,"q":0.503},{"f":"LF-12345","s":22,"q":0.578},{"f":"LF-12345","s":23,"q":0.563},{"f":"LF-12345","s":24,"q":0.604},{"f":"LF-12345","s":25,"q":0.386},{"f":"LF-12345","s":26,"q":0.508},{"f":"LF-12345","s":27,"q":0.421},{"f":"LF-12345","s":28,"q":0.52},{"f":"LF-12345","s":29,"q":0.441},{"f":"LF-12345","s":30,"q":0.401},{"f":"LF-12345","s":31,"q":0.431},{"f":"LF-12345","s":32,"q":0.485}
]},
"resolve":{"axis":{"x":"independent","y":"independent"}},
"layer":[
 {"data":{"values":[{"f":"LF-3"},{"f":"LF-15"},{"f":"LF-23"},{"f":"LF-123"}]},
  "mark":{"type":"rule","color":"#808080","strokeWidth":1.3,"strokeDash":[1.5,2.6]},
  "encoding":{"x":{"field":"f","type":"nominal","bandPosition":0,"axis":null,
    "scale":{"domain":["HF","LF-3","LF-4","LF-34","LF-5","LF-35","LF-45","LF-345","LF-1","LF-13","LF-14","LF-134","LF-15","LF-135","LF-145","LF-1345","LF-2","LF-12","LF-23","LF-24","LF-234","LF-25","LF-125","LF-235","LF-245","LF-2345","LF-123","LF-124","LF-1234","LF-1235","LF-1245","LF-12345"],"paddingInner":0,"paddingOuter":0.9605,"align":0.389}}}},
 {"data":{"name":"pts"},
  "mark":{"type":"boxplot","extent":1.5,"size":27,
    "box":{"color":"white","stroke":"#333333","strokeWidth":1.8,"strokeOpacity":1,"opacity":1},
    "median":{"color":"#333333","thickness":1.8,"opacity":1},
    "rule":{"color":"#333333","strokeWidth":1.8,"opacity":1},
    "ticks":{"color":"#333333","size":14,"thickness":1.8,"opacity":1},
    "outliers":{"shape":"M0,-1L0.75,0L0,1L-0.75,0Z","size":144,"filled":true,"color":"#3a3a3a","opacity":1}},
  "encoding":{
    "x":{"field":"f","type":"nominal",
      "scale":{"domain":["HF","LF-3","LF-4","LF-34","LF-5","LF-35","LF-45","LF-345","LF-1","LF-13","LF-14","LF-134","LF-15","LF-135","LF-145","LF-1345","LF-2","LF-12","LF-23","LF-24","LF-234","LF-25","LF-125","LF-235","LF-245","LF-2345","LF-123","LF-124","LF-1234","LF-1235","LF-1245","LF-12345"],"paddingInner":0,"paddingOuter":0.9605,"align":0.389},
      "axis":{"title":"Fidelity (sorted by decreasing 𝒞ₖ)","titleFont":"Liberation Serif, DejaVu Serif, serif","titleFontSize":20,"titlePadding":3,
        "labelAngle":-45,"labelAlign":"right","labelBaseline":"top",
        "labelOffset":{"expr":"length(datum.label) == 2 ? 3 : 3.35 * length(datum.label) - 6"},
        "labelPadding":19,"labelFont":"Liberation Sans","labelFontSize":17,"tickSize":-5,"domain":false}},
    "y":{"field":"q","type":"quantitative",
      "scale":{"domain":[0,1.75],"nice":false,"zero":false},
      "axis":{"title":"Q ≡ (T̄f − T₀)/T₀","titleFont":"Liberation Serif, DejaVu Serif, serif","titleFontSize":23,"titleFontStyle":"italic","titlePadding":8,
        "values":[0,0.25,0.5,0.75,1,1.25,1.5,1.75],"format":".2f","labelFont":"Liberation Serif, DejaVu Serif, serif","labelFontSize":18,"tickSize":-5,"labelPadding":16,"domain":false}}}},
 {"data":{"name":"pts"},
  "mark":{"type":"point","shape":"circle","filled":true,"size":52,"stroke":"#333333","strokeWidth":0.7,"opacity":1},
  "encoding":{
    "x":{"field":"f","type":"nominal","axis":null,
      "scale":{"domain":["HF","LF-3","LF-4","LF-34","LF-5","LF-35","LF-45","LF-345","LF-1","LF-13","LF-14","LF-134","LF-15","LF-135","LF-145","LF-1345","LF-2","LF-12","LF-23","LF-24","LF-234","LF-25","LF-125","LF-235","LF-245","LF-2345","LF-123","LF-124","LF-1234","LF-1235","LF-1245","LF-12345"],"paddingInner":0,"paddingOuter":0.9605,"align":0.389}},
    "xOffset":{"field":"s","type":"nominal","scale":{"domain":[11,19,9,3,21,29,14,4,20,18,17,27,16,12,24,2,10,6,1,22,25,31,15,7,23,8,26,5,32,30,28,13]}},
    "y":{"field":"q","type":"quantitative","axis":null,"scale":{"domain":[0,1.75],"nice":false,"zero":false}},
    "color":{"field":"s","type":"nominal",
      "scale":{"domain":[1,3,5,7,9,11,13,15,17,19,21,23,25,27,29,31,2,4,6,8,10,12,14,16,18,20,22,24,26,28,30,32],
               "range":["#2a2a2a","#4a4a4a","#6e6e6e","#919191","#b0b0b0","#cbcbcb","#e2e2e2","#f5f5f5","#fef4ee","#fdddca","#f8bda0","#ee9878","#dc6d57","#c6403e","#ad162a","#7e0823",
                        "#3a3a3a","#5b5b5b","#808080","#a0a0a0","#bfbfbf","#d6d6d6","#ececec","#ffffff","#fee8dc","#fbceb6","#f5ac8b","#e58267","#d25749","#bb2a33","#960f26","#67001f"]},
      "legend":{"orient":"none","legendX":-50,"legendY":-53,"direction":"horizontal","columns":16,"symbolLimit":0,
        "title":"Sample","titleOrient":"left","titleAnchor":"start","titleBaseline":"top","titleFont":"Liberation Serif, DejaVu Serif, serif","titleFontSize":19,"titleFontWeight":"normal","titleColor":"#000000","titlePadding":11,
        "labelFont":"Liberation Sans","labelFontSize":17,"labelColor":"#000000","labelOffset":25,"columnPadding":11,"rowPadding":9,
        "symbolType":"circle","symbolSize":90,"symbolStrokeWidth":0,"symbolOpacity":1}}}},
 {"data":{"values":[{"t":"𝒞ₖ = 1","f":"HF","y":1.378},{"t":"𝒞ₖ ∼ 10⁻²","f":"LF-1345","y":1.378},{"t":"𝒞ₖ ∼ 10⁻³","f":"LF-125","y":1.378},{"t":"𝒞ₖ ∼ 10⁻⁴","f":"LF-1245","y":1.378}]},
  "mark":{"type":"text","font":"Liberation Serif, DejaVu Serif, serif","fontSize":20,"align":"center","baseline":"middle","color":"#000000"},
  "encoding":{
    "x":{"field":"f","type":"nominal","bandPosition":0,
      "scale":{"domain":["HF","LF-3","LF-4","LF-34","LF-5","LF-35","LF-45","LF-345","LF-1","LF-13","LF-14","LF-134","LF-15","LF-135","LF-145","LF-1345","LF-2","LF-12","LF-23","LF-24","LF-234","LF-25","LF-125","LF-235","LF-245","LF-2345","LF-123","LF-124","LF-1234","LF-1235","LF-1245","LF-12345"],"paddingInner":0,"paddingOuter":0.9605,"align":0.389},
      "axis":{"orient":"top","labels":false,"title":null,"tickSize":-5,"domain":false}},
    "y":{"field":"y","type":"quantitative","scale":{"domain":[0,1.75],"nice":false,"zero":false},
      "axis":{"orient":"right","labels":false,"title":null,"values":[0,0.25,0.5,0.75,1,1.25,1.5,1.75],"tickSize":-5,"domain":false}},
    "text":{"field":"t"}}},
 {"data":{"values":[{"t":"𝒞ₖ ∼ 10⁻¹","f":"LF-45","y":1.378}]},
  "mark":{"type":"text","font":"Liberation Serif, DejaVu Serif, serif","fontSize":20,"align":"center","baseline":"middle","color":"#000000"},
  "encoding":{
    "x":{"field":"f","type":"nominal","bandPosition":0.68,"axis":null,
      "scale":{"domain":["HF","LF-3","LF-4","LF-34","LF-5","LF-35","LF-45","LF-345","LF-1","LF-13","LF-14","LF-134","LF-15","LF-135","LF-145","LF-1345","LF-2","LF-12","LF-23","LF-24","LF-234","LF-25","LF-125","LF-235","LF-245","LF-2345","LF-123","LF-124","LF-1234","LF-1235","LF-1245","LF-12345"],"paddingInner":0,"paddingOuter":0.9605,"align":0.389}},
    "y":{"field":"y","type":"quantitative","axis":null,"scale":{"domain":[0,1.75],"nice":false,"zero":false}},
    "text":{"field":"t"}}}
]
}
